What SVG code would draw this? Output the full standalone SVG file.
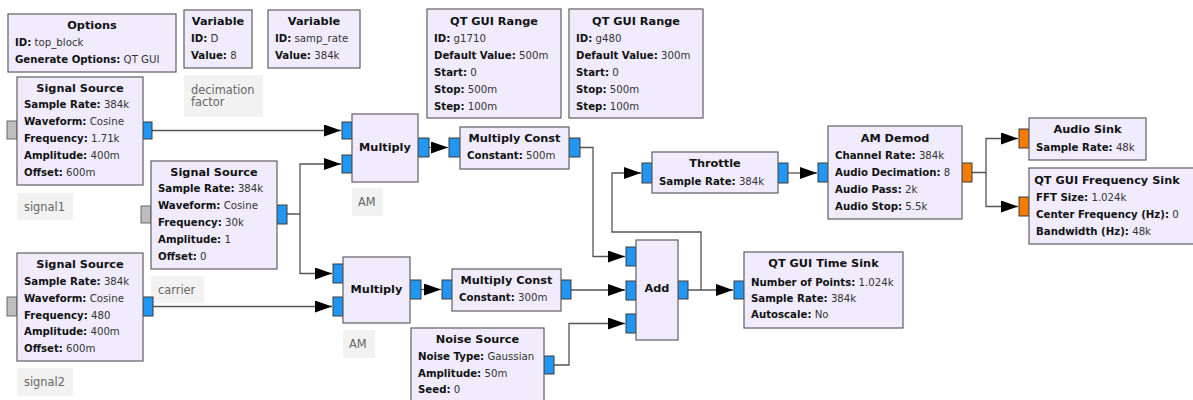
<svg xmlns="http://www.w3.org/2000/svg" width="1193" height="400" viewBox="0 0 1193 400">
<style>
.blk{fill:#F0ECFE;stroke:#5f5f5f;stroke-width:1.2}
.t{font-family:"DejaVu Sans",sans-serif;font-weight:bold;font-size:11.3px;text-anchor:middle;fill:#111}
.p{font-family:"DejaVu Sans",sans-serif;font-size:10.2px;fill:#333}
.k{font-weight:bold;fill:#111}
.pb{fill:#2196F3;stroke:#3a3a3a;stroke-width:1}
.po{fill:#F57C00;stroke:#3a3a3a;stroke-width:1}
.pg{fill:#BDBDBD;stroke:#6a6a6a;stroke-width:1}
.cm{fill:#F2F2F2}
.ct{font-family:"DejaVu Sans",sans-serif;font-size:11.4px;fill:#666}
.w{fill:none;stroke:#555;stroke-width:1.3}
</style>
<defs>
<marker id="ah" markerUnits="userSpaceOnUse" markerWidth="18" markerHeight="12" refX="17" refY="6" orient="auto" viewBox="0 0 18 12">
<path d="M0,0 L17,6 L0,12 z" fill="#000"/>
</marker>
</defs>

<g id="connectors">
<path class="w" d="M152,130.5 H341" marker-end="url(#ah)"/>
<path class="w" d="M287,214 H300 V164 H341" marker-end="url(#ah)"/>
<path class="w" d="M300,214 V273.5 H332" marker-end="url(#ah)"/>
<path class="w" d="M153,306.5 H332" marker-end="url(#ah)"/>
<path class="w" d="M429,147.5 H448" marker-end="url(#ah)"/>
<path class="w" d="M421,289.5 H441" marker-end="url(#ah)"/>
<path class="w" d="M580,147.5 H593 V256.5 H625" marker-end="url(#ah)"/>
<path class="w" d="M571,290 H625" marker-end="url(#ah)"/>
<path class="w" d="M554,365 H569 V323.5 H625" marker-end="url(#ah)"/>
<path class="w" d="M688,290 H733" marker-end="url(#ah)"/>
<path class="w" d="M701,290 V232 H612 V173 H641" marker-end="url(#ah)"/>
<path class="w" d="M788,173 H817" marker-end="url(#ah)"/>
<path class="w" d="M972,172.5 H986 V138.5 H1018" marker-end="url(#ah)"/>
<path class="w" d="M986,172.5 V206.5 H1018" marker-end="url(#ah)"/>
</g>

<g id="options">
<rect class="blk" x="8" y="14" width="168" height="58"/>
<text class="t" x="92" y="29">Options</text>
<text class="p" x="15" y="46"><tspan class="k">ID:</tspan> top_block</text>
<text class="p" x="15" y="63"><tspan class="k">Generate Options:</tspan> QT GUI</text>
</g>

<g id="var_D">
<rect class="blk" x="184" y="10" width="68" height="58"/>
<text class="t" x="218" y="25">Variable</text>
<text class="p" x="191" y="42"><tspan class="k">ID:</tspan> D</text>
<text class="p" x="191" y="59"><tspan class="k">Value:</tspan> 8</text>
</g>

<g id="comment_decim">
<rect class="cm" x="184" y="75" width="79" height="42"/>
<text class="ct" x="191" y="94">decimation</text>
<text class="ct" x="191" y="106">factor</text>
</g>

<g id="var_samp_rate">
<rect class="blk" x="268" y="10" width="92" height="58"/>
<text class="t" x="314" y="25">Variable</text>
<text class="p" x="275" y="42"><tspan class="k">ID:</tspan> samp_rate</text>
<text class="p" x="275" y="59"><tspan class="k">Value:</tspan> 384k</text>
</g>

<g id="range_g1710">
<rect class="blk" x="427" y="9" width="134" height="109"/>
<text class="t" x="494" y="25">QT GUI Range</text>
<text class="p" x="434" y="42"><tspan class="k">ID:</tspan> g1710</text>
<text class="p" x="434" y="59"><tspan class="k">Default Value:</tspan> 500m</text>
<text class="p" x="434" y="76"><tspan class="k">Start:</tspan> 0</text>
<text class="p" x="434" y="93"><tspan class="k">Stop:</tspan> 500m</text>
<text class="p" x="434" y="110"><tspan class="k">Step:</tspan> 100m</text>
</g>

<g id="range_g480">
<rect class="blk" x="569" y="9" width="134" height="109"/>
<text class="t" x="636" y="25">QT GUI Range</text>
<text class="p" x="576" y="42"><tspan class="k">ID:</tspan> g480</text>
<text class="p" x="576" y="59"><tspan class="k">Default Value:</tspan> 300m</text>
<text class="p" x="576" y="76"><tspan class="k">Start:</tspan> 0</text>
<text class="p" x="576" y="93"><tspan class="k">Stop:</tspan> 500m</text>
<text class="p" x="576" y="110"><tspan class="k">Step:</tspan> 100m</text>
</g>

<g id="signal_source_1">
<rect class="pg" x="7" y="121" width="10" height="18"/>
<rect class="pb" x="143" y="122" width="9" height="17"/>
<rect class="blk" x="17" y="77" width="126" height="108"/>
<text class="t" x="80" y="92">Signal Source</text>
<text class="p" x="24" y="108"><tspan class="k">Sample Rate:</tspan> 384k</text>
<text class="p" x="24" y="125"><tspan class="k">Waveform:</tspan> Cosine</text>
<text class="p" x="24" y="142"><tspan class="k">Frequency:</tspan> 1.71k</text>
<text class="p" x="24" y="159"><tspan class="k">Amplitude:</tspan> 400m</text>
<text class="p" x="24" y="176"><tspan class="k">Offset:</tspan> 600m</text>
</g>

<g id="comment_signal1">
<rect class="cm" x="17" y="193" width="56" height="27"/>
<text class="ct" x="24" y="211">signal1</text>
</g>

<g id="signal_source_2">
<rect class="pg" x="141" y="206" width="10" height="17"/>
<rect class="pb" x="277" y="205" width="10" height="19"/>
<rect class="blk" x="151" y="161" width="126" height="108"/>
<text class="t" x="214" y="176">Signal Source</text>
<text class="p" x="158" y="192"><tspan class="k">Sample Rate:</tspan> 384k</text>
<text class="p" x="158" y="209"><tspan class="k">Waveform:</tspan> Cosine</text>
<text class="p" x="158" y="226"><tspan class="k">Frequency:</tspan> 30k</text>
<text class="p" x="158" y="243"><tspan class="k">Amplitude:</tspan> 1</text>
<text class="p" x="158" y="260"><tspan class="k">Offset:</tspan> 0</text>
</g>

<g id="comment_carrier">
<rect class="cm" x="151" y="276" width="53" height="27"/>
<text class="ct" x="158" y="294">carrier</text>
</g>

<g id="signal_source_3">
<rect class="pg" x="7" y="297" width="10" height="19"/>
<rect class="pb" x="143" y="297" width="10" height="19"/>
<rect class="blk" x="17" y="253" width="126" height="108"/>
<text class="t" x="80" y="268">Signal Source</text>
<text class="p" x="24" y="285"><tspan class="k">Sample Rate:</tspan> 384k</text>
<text class="p" x="24" y="302"><tspan class="k">Waveform:</tspan> Cosine</text>
<text class="p" x="24" y="319"><tspan class="k">Frequency:</tspan> 480</text>
<text class="p" x="24" y="335"><tspan class="k">Amplitude:</tspan> 400m</text>
<text class="p" x="24" y="352"><tspan class="k">Offset:</tspan> 600m</text>
</g>

<g id="comment_signal2">
<rect class="cm" x="17" y="368" width="56" height="28"/>
<text class="ct" x="24" y="386">signal2</text>
</g>

<g id="multiply_1">
<rect class="pb" x="342" y="122" width="10" height="17"/>
<rect class="pb" x="342" y="155" width="10" height="18"/>
<rect class="pb" x="418" y="138" width="11" height="19"/>
<rect class="blk" x="352" y="114" width="66" height="68"/>
<text class="t" x="385" y="151">Multiply</text>
</g>

<g id="comment_am1">
<rect class="cm" x="352" y="188" width="31" height="28"/>
<text class="ct" x="358" y="206">AM</text>
</g>

<g id="multiply_2">
<rect class="pb" x="333" y="264" width="10" height="19"/>
<rect class="pb" x="333" y="297" width="10" height="19"/>
<rect class="pb" x="410" y="280" width="11" height="19"/>
<rect class="blk" x="343" y="257" width="67" height="66"/>
<text class="t" x="376.5" y="293">Multiply</text>
</g>

<g id="comment_am2">
<rect class="cm" x="343" y="330" width="32" height="28"/>
<text class="ct" x="349" y="348">AM</text>
</g>

<g id="multiply_const_1">
<rect class="pb" x="449" y="138" width="11" height="19"/>
<rect class="pb" x="569" y="138" width="11" height="19"/>
<rect class="blk" x="460" y="127" width="109" height="42"/>
<text class="t" x="514.5" y="142">Multiply Const</text>
<text class="p" x="467" y="159"><tspan class="k">Constant:</tspan> 500m</text>
</g>

<g id="multiply_const_2">
<rect class="pb" x="442" y="280" width="10" height="19"/>
<rect class="pb" x="561" y="280" width="10" height="19"/>
<rect class="blk" x="452" y="269" width="109" height="42"/>
<text class="t" x="506.5" y="284">Multiply Const</text>
<text class="p" x="459" y="301"><tspan class="k">Constant:</tspan> 300m</text>
</g>

<g id="noise_source">
<rect class="pb" x="544" y="356" width="10" height="18"/>
<rect class="blk" x="411" y="328" width="133" height="80"/>
<text class="t" x="477.5" y="343">Noise Source</text>
<text class="p" x="418" y="360"><tspan class="k">Noise Type:</tspan> Gaussian</text>
<text class="p" x="418" y="377"><tspan class="k">Amplitude:</tspan> 50m</text>
<text class="p" x="418" y="393"><tspan class="k">Seed:</tspan> 0</text>
</g>

<g id="add">
<rect class="pb" x="626" y="247" width="10" height="19"/>
<rect class="pb" x="626" y="281" width="10" height="19"/>
<rect class="pb" x="626" y="314" width="10" height="19"/>
<rect class="pb" x="678" y="281" width="10" height="18"/>
<rect class="blk" x="636" y="240" width="42" height="100"/>
<text class="t" x="657" y="292">Add</text>
</g>

<g id="throttle">
<rect class="pb" x="642" y="163" width="10" height="20"/>
<rect class="pb" x="778" y="163" width="10" height="20"/>
<rect class="blk" x="652" y="152" width="126" height="41"/>
<text class="t" x="715" y="167">Throttle</text>
<text class="p" x="659" y="185"><tspan class="k">Sample Rate:</tspan> 384k</text>
</g>

<g id="time_sink">
<rect class="pb" x="734" y="281" width="10" height="18"/>
<rect class="blk" x="744" y="252" width="159" height="76"/>
<text class="t" x="823.5" y="267">QT GUI Time Sink</text>
<text class="p" x="751" y="286"><tspan class="k">Number of Points:</tspan> 1.024k</text>
<text class="p" x="751" y="302"><tspan class="k">Sample Rate:</tspan> 384k</text>
<text class="p" x="751" y="318"><tspan class="k">Autoscale:</tspan> No</text>
</g>

<g id="am_demod">
<rect class="pb" x="818" y="163" width="10" height="19"/>
<rect class="po" x="962" y="163" width="10" height="19"/>
<rect class="blk" x="828" y="126" width="134" height="93"/>
<text class="t" x="895" y="142">AM Demod</text>
<text class="p" x="835" y="159"><tspan class="k">Channel Rate:</tspan> 384k</text>
<text class="p" x="835" y="176"><tspan class="k">Audio Decimation:</tspan> 8</text>
<text class="p" x="835" y="193"><tspan class="k">Audio Pass:</tspan> 2k</text>
<text class="p" x="835" y="210"><tspan class="k">Audio Stop:</tspan> 5.5k</text>
</g>

<g id="audio_sink">
<rect class="po" x="1019" y="129" width="10" height="19"/>
<rect class="blk" x="1029" y="118" width="117" height="42"/>
<text class="t" x="1087.5" y="133">Audio Sink</text>
<text class="p" x="1036" y="151"><tspan class="k">Sample Rate:</tspan> 48k</text>
</g>

<g id="freq_sink">
<rect class="po" x="1019" y="197" width="10" height="19"/>
<rect class="blk" x="1029" y="168" width="166" height="76"/>
<text class="t" x="1107" y="184">QT GUI Frequency Sink</text>
<text class="p" x="1036" y="201"><tspan class="k">FFT Size:</tspan> 1.024k</text>
<text class="p" x="1036" y="218"><tspan class="k">Center Frequency (Hz):</tspan> 0</text>
<text class="p" x="1036" y="235"><tspan class="k">Bandwidth (Hz):</tspan> 48k</text>
</g>
</svg>
